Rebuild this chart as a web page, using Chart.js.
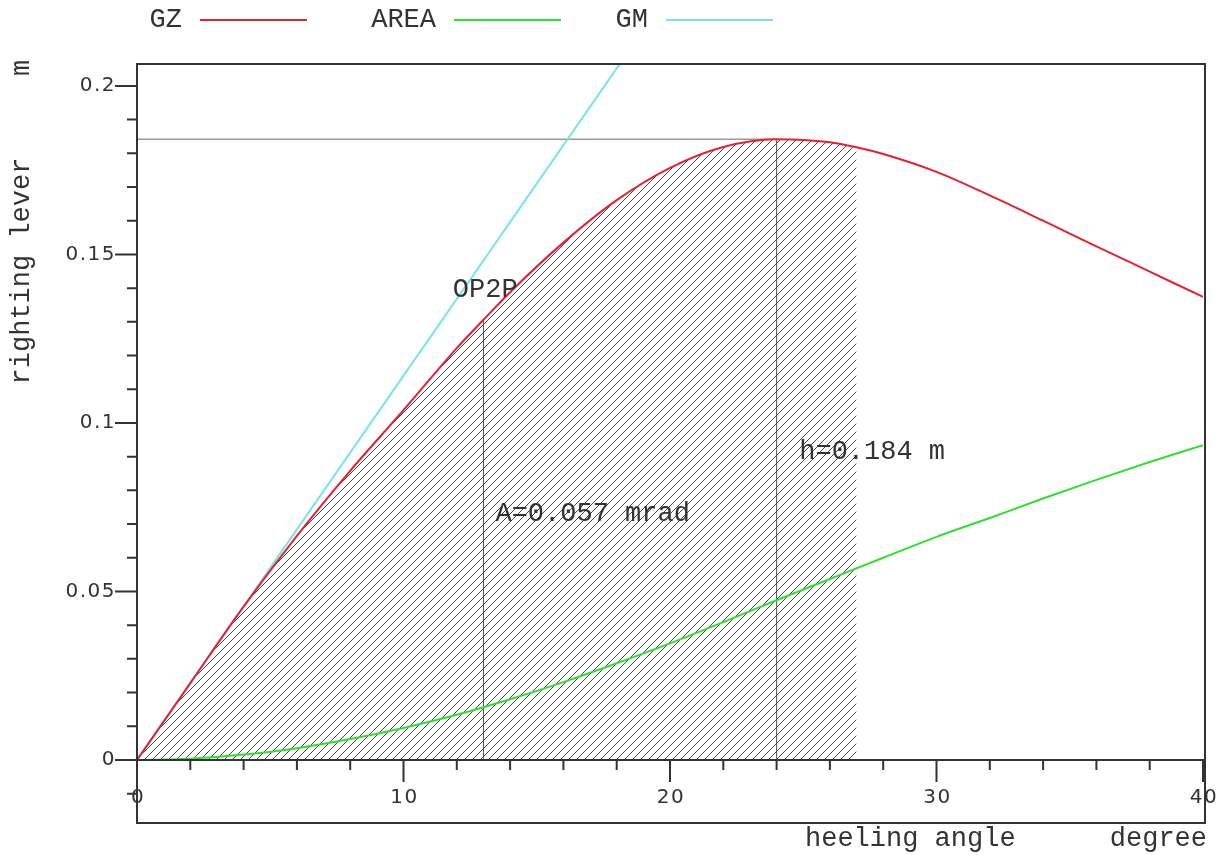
<!DOCTYPE html>
<html>
<head>
<meta charset="utf-8">
<script src="https://cdn.jsdelivr.net/npm/chart.js@4.4.0/dist/chart.umd.min.js"></script>
<style>
  body { margin: 0; background: #fff; }
  canvas { display: block; }
</style>
</head>
<body>
<canvas id="chart" width="1222" height="855"></canvas>
<script>
// GZ (righting lever) curve
const gzAngles = [0, 2, 4, 6, 8, 10, 12, 13, 14, 16, 18, 20, 22, 24, 26, 27, 28, 30, 32, 34, 36, 38, 40];
const gzValues = [0, 0.0228, 0.0455, 0.0665, 0.0858, 0.1038, 0.1222, 0.1306, 0.1388, 0.1535, 0.1661, 0.1757,
  0.1819, 0.1842, 0.1833, 0.1818, 0.1798, 0.1745, 0.1675, 0.16, 0.1524, 0.1449, 0.1374];

// dynamic stability area curve
const areaAngles = [0, 2, 4, 6, 8, 10, 12, 14, 16, 18, 20, 22, 24, 26, 28, 30, 32, 34, 36, 38, 40];
const areaValues = [0, 0.0004, 0.0016, 0.0035, 0.0062, 0.0095, 0.0134, 0.018, 0.0231, 0.0287, 0.0346, 0.0409,
  0.0474, 0.0537, 0.06, 0.0662, 0.0718, 0.0776, 0.0831, 0.0884, 0.0934];

// GM tangent line
const gmAngles = [0, 20];
const gmValues = [0, 0.228];

// hatched area up to this angle, marker lines
const hatchEnd = 27;
const markerAngles = [13, 24];
const markerLevels = [0.1306, 0.1842];

const notes = ["OP2P", "A=0.057 mrad", "h=0.184 m"];
const noteAngles = [11.85, 13.45, 24.85];
const noteValues = [0.1395, 0.073, 0.0915];

const xMajorTicks = [0, 10, 20, 30, 40];
const xTickLabels = ["0", "10", "20", "30", "40"];
const xMinorTicks = [2, 4, 6, 8, 12, 14, 16, 18, 22, 24, 26, 28, 32, 34, 36, 38];
const yMajorTicks = [0, 0.05, 0.1, 0.15, 0.2];
const yTickLabels = ["0", "0.05", "0.1", "0.15", "0.2"];
const yMinorTicks = [-0.01, 0.01, 0.02, 0.03, 0.04, 0.06, 0.07, 0.08, 0.09, 0.11, 0.12, 0.13, 0.14,
  0.16, 0.17, 0.18, 0.19];

const toPoints = (xs, ys) => xs.map((x, i) => ({ x: x, y: ys[i] }));

const gzPoints = toPoints(gzAngles, gzValues);
const hatchPoints = gzPoints.filter((p) => p.x <= hatchEnd);

// diagonal hatch pattern
const makeHatch = () => {
  const tile = document.createElement("canvas");
  tile.width = 8;
  tile.height = 8;
  const t = tile.getContext("2d");
  t.strokeStyle = "#4a4a4a";
  t.lineWidth = 1;
  t.beginPath();
  t.moveTo(-1, 9); t.lineTo(9, -1);
  t.moveTo(-1, 1); t.lineTo(1, -1);
  t.moveTo(7, 9); t.lineTo(9, 7);
  t.stroke();
  return t.createPattern(tile, "repeat");
};

const monoFont = '27px "Liberation Mono"';

const axesPlugin = {
  id: "axes",
  afterDraw(chart) {
    const { ctx, chartArea: a, scales } = chart;
    const x = scales.x, y = scales.y;
    const x0 = x.getPixelForValue(0);
    const y0 = y.getPixelForValue(0);
    ctx.save();
    ctx.strokeStyle = "#333";
    ctx.lineWidth = 2;
    ctx.strokeRect(a.left, a.top, a.right - a.left + 2, a.bottom - a.top);
    ctx.beginPath();
    ctx.moveTo(a.left, y0);
    ctx.lineTo(a.right + 2, y0);
    yMajorTicks.forEach((v) => {
      const p = y.getPixelForValue(v);
      ctx.moveTo(x0 - 22, p); ctx.lineTo(x0, p);
    });
    yMinorTicks.forEach((v) => {
      const p = y.getPixelForValue(v);
      ctx.moveTo(x0 - 10, p); ctx.lineTo(x0, p);
    });
    xMajorTicks.forEach((v) => {
      const p = x.getPixelForValue(v);
      ctx.moveTo(p, y0); ctx.lineTo(p, y0 + 22);
    });
    xMinorTicks.forEach((v) => {
      const p = x.getPixelForValue(v);
      ctx.moveTo(p, y0); ctx.lineTo(p, y0 + 10);
    });
    ctx.stroke();

    // tick labels
    ctx.fillStyle = "#333";
    ctx.font = '20px "DejaVu Sans"';
    ctx.letterSpacing = "1.5px";
    ctx.textBaseline = "middle";
    ctx.textAlign = "right";
    yMajorTicks.forEach((v, i) => ctx.fillText(yTickLabels[i], x0 - 21, y.getPixelForValue(v)));
    ctx.textAlign = "center";
    xMajorTicks.forEach((v, i) => ctx.fillText(xTickLabels[i], x.getPixelForValue(v) + 1, y0 + 38));
    ctx.letterSpacing = "0px";

    // axis titles
    ctx.font = monoFont;
    ctx.textAlign = "left";
    ctx.fillText("heeling angle", 805, a.bottom + 16);
    ctx.textAlign = "right";
    ctx.fillText("degree", a.right + 4, a.bottom + 16);
    ctx.save();
    ctx.translate(22, 271);
    ctx.rotate(-Math.PI / 2);
    ctx.textAlign = "center";
    ctx.fillText("righting lever", 0, 0);
    ctx.restore();
    ctx.save();
    ctx.translate(22, 68);
    ctx.rotate(-Math.PI / 2);
    ctx.textAlign = "center";
    ctx.fillText("m", 0, 0);
    ctx.restore();

    // annotations
    ctx.textAlign = "left";
    notes.forEach((s, i) => ctx.fillText(s, x.getPixelForValue(noteAngles[i]), y.getPixelForValue(noteValues[i])));

    // legend: text then line sample
    const legendRight = [182, 436, 648];
    chart.data.datasets.slice(0, 3).forEach((ds, i) => {
      ctx.textAlign = "right";
      ctx.fillStyle = "#333";
      ctx.fillText(ds.label, legendRight[i], 20);
      ctx.strokeStyle = ds.borderColor;
      ctx.lineWidth = 2;
      ctx.beginPath();
      ctx.moveTo(legendRight[i] + 18, 20);
      ctx.lineTo(legendRight[i] + 125, 20);
      ctx.stroke();
    });
    ctx.restore();
  },
};

const ctx = document.getElementById("chart").getContext("2d");
const chart = new Chart(ctx, {
  type: "line",
  data: {
    datasets: [
      {
        label: "GZ",
        data: gzPoints,
        borderColor: "#e8202e",
        borderWidth: 2,
        cubicInterpolationMode: "monotone",
        order: 0,
      },
      {
        label: "AREA",
        data: toPoints(areaAngles, areaValues),
        borderColor: "#2ee02e",
        borderWidth: 2,
        cubicInterpolationMode: "monotone",
        order: 2,
      },
      {
        label: "GM",
        data: toPoints(gmAngles, gmValues),
        borderColor: "#74e4ea",
        borderWidth: 2,
        order: 1,
      },
      {
        label: "marker13",
        data: [{ x: markerAngles[0], y: 0 }, { x: markerAngles[0], y: markerLevels[0] }],
        borderColor: "#555",
        borderWidth: 1,
        order: 3,
      },
      {
        label: "marker24",
        data: [{ x: markerAngles[1], y: 0 }, { x: markerAngles[1], y: markerLevels[1] }],
        borderColor: "#555",
        borderWidth: 1,
        order: 3,
      },
      {
        label: "hline",
        data: [{ x: 0, y: markerLevels[1] }, { x: markerAngles[1], y: markerLevels[1] }],
        borderColor: "#666",
        borderWidth: 1,
        order: 3,
      },
      {
        label: "hatch",
        data: hatchPoints,
        borderWidth: 0,
        borderColor: "rgba(0,0,0,0)",
        backgroundColor: makeHatch(),
        fill: "origin",
        cubicInterpolationMode: "monotone",
        order: 4,
      },
    ],
  },
  options: {
    responsive: false,
    animation: false,
    layout: { padding: { left: 137, right: 19, top: 64, bottom: 32 } },
    elements: { point: { radius: 0 } },
    plugins: { legend: { display: false }, tooltip: { enabled: false } },
    scales: {
      x: { type: "linear", min: 0, max: 40, display: false },
      y: { type: "linear", min: -0.0187, max: 0.2065, display: false },
    },
  },
  plugins: [axesPlugin],
});
</script>
</body>
</html>
